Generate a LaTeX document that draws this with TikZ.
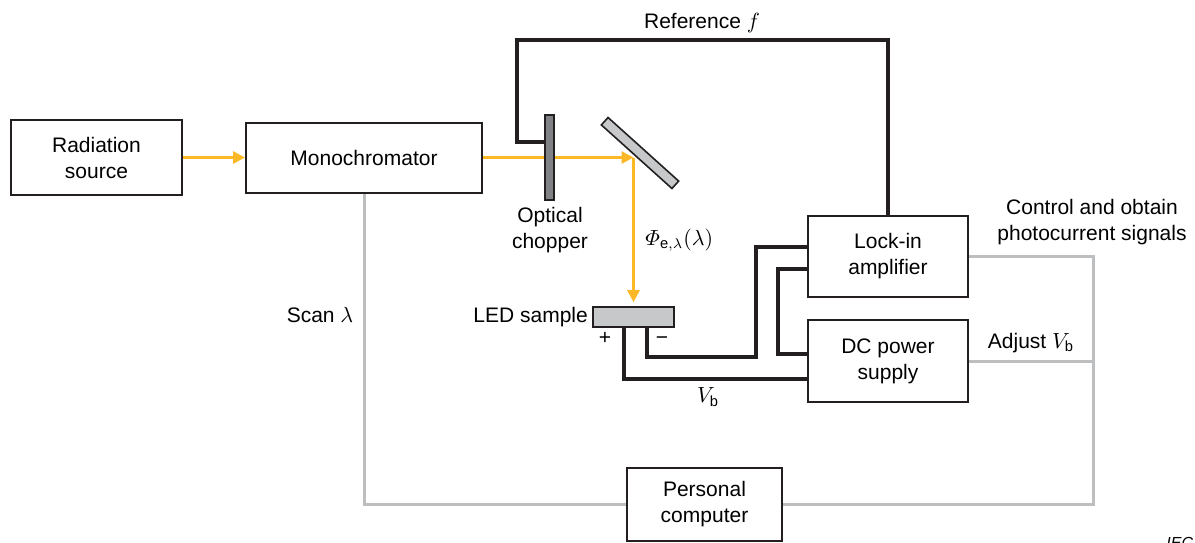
\documentclass[tikz,border=0pt]{standalone}
\usepackage{amsmath}
\usepackage{fontspec}
\setmainfont{Liberation Sans}
\usetikzlibrary{arrows.meta}
\definecolor{beam}{HTML}{FDB827}
\definecolor{ctrlgray}{HTML}{BCBEC0}
\definecolor{boxline}{HTML}{231F20}
\definecolor{choppergray}{HTML}{808285}
\definecolor{lightgray}{HTML}{C7C8CA}

\begin{document}
\begin{tikzpicture}[
    x=0.5pt,y=-0.5pt,
    font=\fontsize{10.5}{13}\selectfont,
    blk/.style={draw=boxline,line width=1pt,align=center,inner sep=0pt},
    part/.style={draw=boxline,line width=0.8pt,inner sep=0pt},
    light/.style={draw=beam,line width=1.4pt},
    ray/.style={light,-{Triangle[length=6pt,width=6pt]}},
    wire/.style={draw=boxline,line width=1.6pt},
    ctrl/.style={draw=ctrlgray,line width=1.5pt},
    lbl/.style={inner sep=0pt,align=center}]
  \useasboundingbox (0,0) rectangle (1195,542);
  % blocks
  \node[blk,minimum width=85.5pt,minimum height=37.5pt] (source) at (96.5,157.5) {Radiation\\source};
  \node[blk,minimum width=118pt,minimum height=35pt] (mono) at (364,157.5) {Monochromator};
  \node[blk,minimum width=80pt,minimum height=40.5pt] (lockin) at (888,256.5) {Lock-in\\amplifier};
  \node[blk,minimum width=80pt,minimum height=41pt] (dc) at (888,361) {DC power\\supply};
  \node[blk,minimum width=77.5pt,minimum height=36.5pt] (pc) at (704.5,504.5) {Personal\\computer};
  \node[part,fill=lightgray,minimum width=40.5pt,minimum height=10pt] (led) at (633.5,317) {};
  \coordinate (fold) at (633.5,157.5);
  % optical path
  \draw[ray] (source) -- (mono);
  \draw[ray] (mono.east) -- (fold);
  \draw[ray,shorten >=2pt] (fold) -- (led.north);
  \node[part,fill=choppergray,minimum width=4.5pt,minimum height=42.5pt] (chopper) at (549.5,157.5) {};
  \node[part,fill=lightgray,minimum width=47.5pt,minimum height=5pt,rotate=-42] (mirror) at (640,153) {};
  % electrical connections
  \coordinate (reftop) at (517,40);
  \coordinate (minusbend) at (756,357);
  \draw[wire] (chopper.west |- 0,142) -| (reftop) -| (lockin.north);
  \draw[wire] (624,0 |- led.south) |- (dc.west |- 0,379);
  \draw[wire] (647,0 |- led.south) |- (minusbend) |- (lockin.west |- 0,247);
  \draw[wire] (lockin.west |- 0,269) -| (778,354) -- (dc.west |- 0,354);
  % control lines
  \coordinate (bus) at (1093,504.5);
  \draw[ctrl] (lockin.east) -| (bus) -- (pc.east);
  \draw[ctrl] (dc.east) -- (dc.east -| bus);
  \draw[ctrl] (mono.south) |- (pc.west);
  % labels
  \node[lbl] (reflbl) at (702,23) {Reference $f$};
  \node[lbl] (choplbl) at (550,230) {Optical\\chopper};
  \node[lbl,anchor=west] (fluxlbl) at (645,240) {$\varPhi_{\text{e},\lambda}(\lambda)$};
  \node[lbl,anchor=east] (ledlbl) at ([xshift=-2pt]led.west) {LED sample};
  \node[lbl,anchor=base] (plus) at (605,344) {+};
  \node[lbl,anchor=base] (minus) at (662,344) {−};
  \node[lbl] (vblbl) at (708,397) {$V_{\text{b}}$};
  \node[lbl] (scanlbl) at (320,315) {Scan $\lambda$};
  \node[lbl] (ctrllbl) at (1092,222) {Control and obtain\\photocurrent signals};
  \node[lbl] (adjlbl) at (1031,343) {Adjust $V_{\text{b}}$};
  \node[lbl,anchor=base west,font=\fontsize{8}{9}\selectfont\itshape] (ieclbl) at (1166,548) {IEC};
\end{tikzpicture}
\end{document}
